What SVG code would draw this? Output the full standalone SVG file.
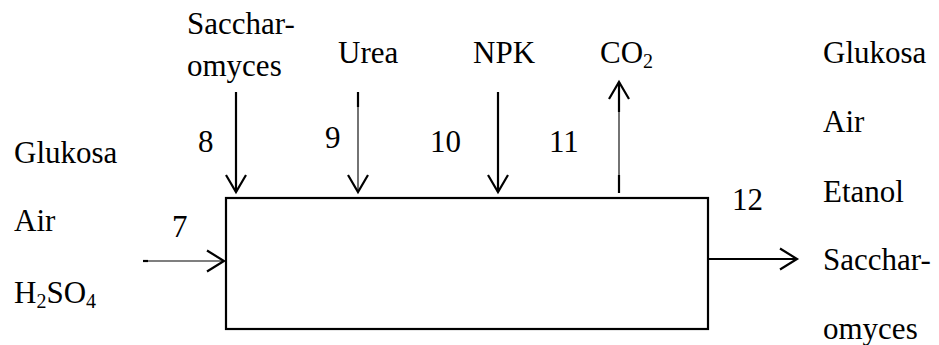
<svg xmlns="http://www.w3.org/2000/svg" width="939" height="345" viewBox="0 0 939 345">
<style>
text{font-family:'Liberation Serif','Times New Roman',serif;font-size:31px;fill:#000}
.sub{font-size:20px}
.thick{stroke:#000;stroke-width:2.2;fill:none}
.thin{stroke:#000;stroke-width:1.1;fill:none}
.head{stroke:#000;stroke-width:2.2;fill:none;stroke-linejoin:miter}
</style>
<rect width="939" height="345" fill="#fff"/>
<g id="reactor">
<rect x="226" y="198" width="482" height="131" fill="none" stroke="#000" stroke-width="2.2"/>
</g>
<g id="connectors">
<line class="thin" x1="143" y1="261" x2="224" y2="261"/>
<line class="thick" x1="143" y1="261" x2="148" y2="261"/>
<polyline class="head" points="207,250.5 224,261 207,271.5"/>
<line class="thick" x1="236" y1="92" x2="236" y2="192"/>
<polyline class="head" points="226,175 236,192 246,175"/>
<line class="thin" x1="358" y1="92" x2="358" y2="192"/>
<line class="thick" x1="358" y1="92" x2="358" y2="107"/>
<polyline class="head" points="348,175 358,192 368,175"/>
<line class="thick" x1="498" y1="92" x2="498" y2="192"/>
<polyline class="head" points="488,175 498,192 508,175"/>
<line class="thin" x1="619" y1="82" x2="619" y2="193"/>
<line class="thick" x1="619" y1="82" x2="619" y2="112"/>
<line class="thick" x1="619" y1="175" x2="619" y2="193"/>
<polyline class="head" points="609,99 619,82 629,99"/>
<line class="thick" x1="708" y1="259" x2="797" y2="259"/>
<polyline class="head" points="780,248.5 797,259 780,269.5"/>
</g>
<g id="stream-inputs-top">
<text x="187" y="34">Sacchar-</text>
<text x="187" y="76">omyces</text>
<text x="338" y="63">Urea</text>
<text x="473" y="63">NPK</text>
<text x="600" y="63">CO<tspan class="sub" dy="5">2</tspan></text>
</g>
<g id="stream-numbers">
<text x="172" y="237">7</text>
<text x="198" y="152">8</text>
<text x="325" y="148">9</text>
<text x="430" y="152">10</text>
<text x="549" y="152">11</text>
<text x="732" y="210">12</text>
</g>
<g id="stream-input-left">
<text x="14" y="163">Glukosa</text>
<text x="14" y="231">Air</text>
<text x="14" y="303">H<tspan class="sub" dy="5">2</tspan><tspan dy="-5">SO</tspan><tspan class="sub" dy="5">4</tspan></text>
</g>
<g id="stream-output-right">
<text x="823" y="63">Glukosa</text>
<text x="823" y="132">Air</text>
<text x="823" y="202">Etanol</text>
<text x="823" y="270">Sacchar-</text>
<text x="823" y="339">omyces</text>
</g>
</svg>
